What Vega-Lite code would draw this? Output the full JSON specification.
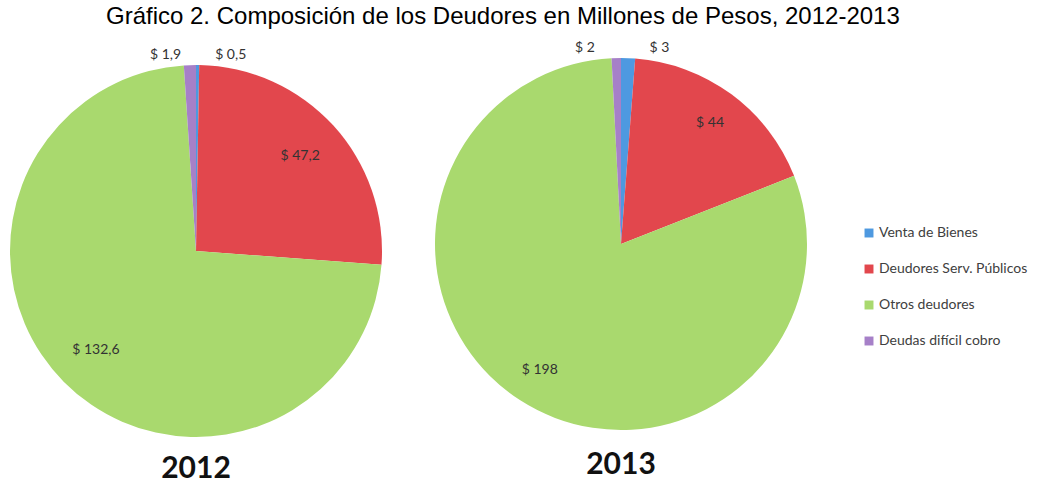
{
  "$schema": "https://vega.github.io/schema/vega-lite/v6.json",
  "padding": {"left": 10, "top": 5, "right": 0, "bottom": 0},
  "bounds": "flush",
  "spacing": 53,
  "background": "white",
  "title": {
    "text": "Gráfico 2. Composición de los Deudores en Millones de Pesos, 2012-2013",
    "font": "Liberation Sans",
    "fontSize": 24,
    "fontWeight": "normal",
    "color": "#000000",
    "anchor": "start",
    "dx": 96,
    "offset": 12
  },
  "datasets": {
    "deudores": [
      {"anio": 2012, "categoria": "Venta de Bienes", "orden": 1, "valor": 0.5, "etiqueta": "$ 0,5"},
      {"anio": 2012, "categoria": "Deudores Serv. Públicos", "orden": 2, "valor": 47.2, "etiqueta": "$ 47,2"},
      {"anio": 2012, "categoria": "Otros deudores", "orden": 3, "valor": 132.6, "etiqueta": "$ 132,6"},
      {"anio": 2012, "categoria": "Deudas difícil cobro", "orden": 4, "valor": 1.9, "etiqueta": "$ 1,9"},
      {"anio": 2013, "categoria": "Venta de Bienes", "orden": 1, "valor": 3, "etiqueta": "$ 3"},
      {"anio": 2013, "categoria": "Deudores Serv. Públicos", "orden": 2, "valor": 44, "etiqueta": "$ 44"},
      {"anio": 2013, "categoria": "Otros deudores", "orden": 3, "valor": 198, "etiqueta": "$ 198"},
      {"anio": 2013, "categoria": "Deudas difícil cobro", "orden": 4, "valor": 2, "etiqueta": "$ 2"}
    ]
  },
  "data": {"name": "deudores"},
  "hconcat": [
    {
      "width": 372,
      "height": 386,
      "title": {"text": "2012", "orient": "bottom", "font": "Lato", "fontSize": 30, "fontWeight": "bold", "color": "#111111", "offset": 10},
      "transform": [{"filter": "datum.anio == 2012"}],
      "encoding": {
        "theta": {"field": "valor", "type": "quantitative", "stack": true},
        "order": {"field": "orden", "type": "quantitative"}
      },
      "layer": [
        {
          "mark": {"type": "arc", "outerRadius": 186},
          "encoding": {
            "color": {
              "field": "categoria", "type": "nominal", "title": null,
              "sort": ["Venta de Bienes", "Deudores Serv. Públicos", "Otros deudores", "Deudas difícil cobro"],
              "scale": {"domain": ["Venta de Bienes", "Deudores Serv. Públicos", "Otros deudores", "Deudas difícil cobro"], "range": ["#4e99e0", "#e2474d", "#a9d96e", "#a680c8"]},
              "legend": {"orient": "none", "legendX": 852, "legendY": 168, "symbolType": "square", "symbolSize": 80, "labelFont": "Lato", "labelFontSize": 14, "labelColor": "#404040", "rowPadding": 22, "labelOffset": 3}
            }
          }
        },
        {
          "mark": {"type": "text", "radius": 141, "font": "Lato", "fontSize": 14, "color": "#333333"},
          "encoding": {"text": {"condition": {"test": "datum.valor >= 5", "field": "etiqueta"}, "value": ""}}
        },
        {
          "mark": {"type": "text", "radius": 196, "dx": -24, "font": "Lato", "fontSize": 14, "color": "#333333"},
          "encoding": {"text": {"condition": {"test": "datum.valor < 5 && datum.orden == 4", "field": "etiqueta"}, "value": ""}}
        },
        {
          "mark": {"type": "text", "radius": 196, "dx": 33, "font": "Lato", "fontSize": 14, "color": "#333333"},
          "encoding": {"text": {"condition": {"test": "datum.valor < 5 && datum.orden == 1", "field": "etiqueta"}, "value": ""}}
        }
      ]
    },
    {
      "width": 372,
      "height": 372,
      "title": {"text": "2013", "orient": "bottom", "font": "Lato", "fontSize": 30, "fontWeight": "bold", "color": "#111111", "offset": 20},
      "transform": [{"filter": "datum.anio == 2013"}],
      "encoding": {
        "theta": {"field": "valor", "type": "quantitative", "stack": true},
        "order": {"field": "orden", "type": "quantitative"}
      },
      "layer": [
        {
          "mark": {"type": "arc", "outerRadius": 186},
          "encoding": {
            "color": {
              "field": "categoria", "type": "nominal", "title": null,
              "sort": ["Venta de Bienes", "Deudores Serv. Públicos", "Otros deudores", "Deudas difícil cobro"],
              "scale": {"domain": ["Venta de Bienes", "Deudores Serv. Públicos", "Otros deudores", "Deudas difícil cobro"], "range": ["#4e99e0", "#e2474d", "#a9d96e", "#a680c8"]}
            }
          }
        },
        {
          "mark": {"type": "text", "radius": 150, "font": "Lato", "fontSize": 14, "color": "#333333"},
          "encoding": {"text": {"condition": {"test": "datum.valor >= 5", "field": "etiqueta"}, "value": ""}}
        },
        {
          "mark": {"type": "text", "radius": 196, "dx": -31, "font": "Lato", "fontSize": 14, "color": "#333333"},
          "encoding": {"text": {"condition": {"test": "datum.valor < 5 && datum.orden == 4", "field": "etiqueta"}, "value": ""}}
        },
        {
          "mark": {"type": "text", "radius": 196, "dx": 31, "font": "Lato", "fontSize": 14, "color": "#333333"},
          "encoding": {"text": {"condition": {"test": "datum.valor < 5 && datum.orden == 1", "field": "etiqueta"}, "value": ""}}
        }
      ]
    }
  ],
  "config": {"view": {"stroke": null}}
}
